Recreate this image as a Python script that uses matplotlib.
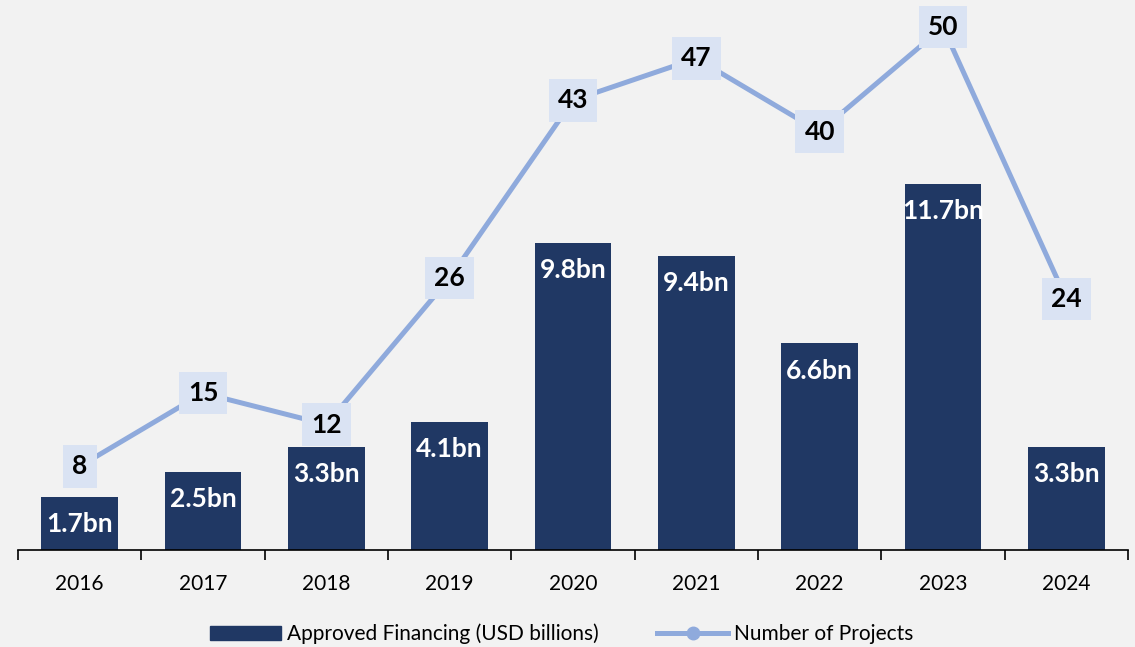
import numpy as np
import matplotlib
matplotlib.use('Agg')
import matplotlib.pyplot as plt
from matplotlib.lines import Line2D
from matplotlib.patches import Patch

years = ['2016', '2017', '2018', '2019', '2020', '2021', '2022', '2023', '2024']
financing = [1.7, 2.5, 3.3, 4.1, 9.8, 9.4, 6.6, 11.7, 3.3]
projects = [8, 15, 12, 26, 43, 47, 40, 50, 24]

BG = '#f2f2f2'
NAVY = '#203864'
LINE = '#8faadc'
BOX = '#dae3f3'

plt.rcParams['font.family'] = ['Lato', 'DejaVu Sans']

fig = plt.figure(figsize=(11.35, 6.47), dpi=100, facecolor=BG)
ax = fig.add_axes([18 / 1135, 97 / 647, 1110 / 1135, 548 / 647])
ax.set_facecolor(BG)
x = np.arange(len(years))

ax.bar(x, financing, width=0.62, color=NAVY, zorder=2)
for xi, v in zip(x, financing):
    ax.annotate(f'{v}bn', (xi, v), xytext=(0, -11), textcoords='offset points',
                ha='center', va='top', color='white', fontsize=19, fontweight='bold', zorder=5)
ax.set_ylim(0, 17.5)
ax.set_xlim(-0.5, len(years) - 0.5)

ax2 = ax.twinx()
ax2.plot(x, projects, color=LINE, lw=3.6, zorder=3)
for xi, v in zip(x, projects):
    ax2.text(xi, v, str(v), ha='center', va='center', fontsize=19, fontweight='bold', color='black',
             bbox=dict(boxstyle='square,pad=0.35', fc=BOX, ec='none'), zorder=6)
ax2.set_ylim(0, 52.4)

for a in (ax, ax2):
    for s in ('top', 'right', 'left'):
        a.spines[s].set_visible(False)
    a.set_yticks([])
ax.spines['bottom'].set_color('black')
ax.spines['bottom'].set_linewidth(1.2)
ax2.spines['bottom'].set_visible(False)

ax.set_xticks(x)
ax.set_xticklabels(years, fontsize=15)
ax.tick_params(axis='x', which='major', length=0, pad=17)
ax.set_xticks(np.arange(-0.5, len(years)), minor=True)
ax.tick_params(axis='x', which='minor', length=7, width=1.2, direction='out', color='black')

handles = [Patch(color=NAVY, label='Approved Financing (USD billions)'),
           Line2D([0], [0], color=LINE, lw=3.6, marker='o', markersize=9, label='Number of Projects')]
fig.legend(handles=handles, loc='center', bbox_to_anchor=(0.495, 13 / 647), ncol=2, frameon=False,
           fontsize=15, handlelength=3.4, handletextpad=0.3, columnspacing=2.8)

fig.savefig('out.png', dpi=100, facecolor=BG)
